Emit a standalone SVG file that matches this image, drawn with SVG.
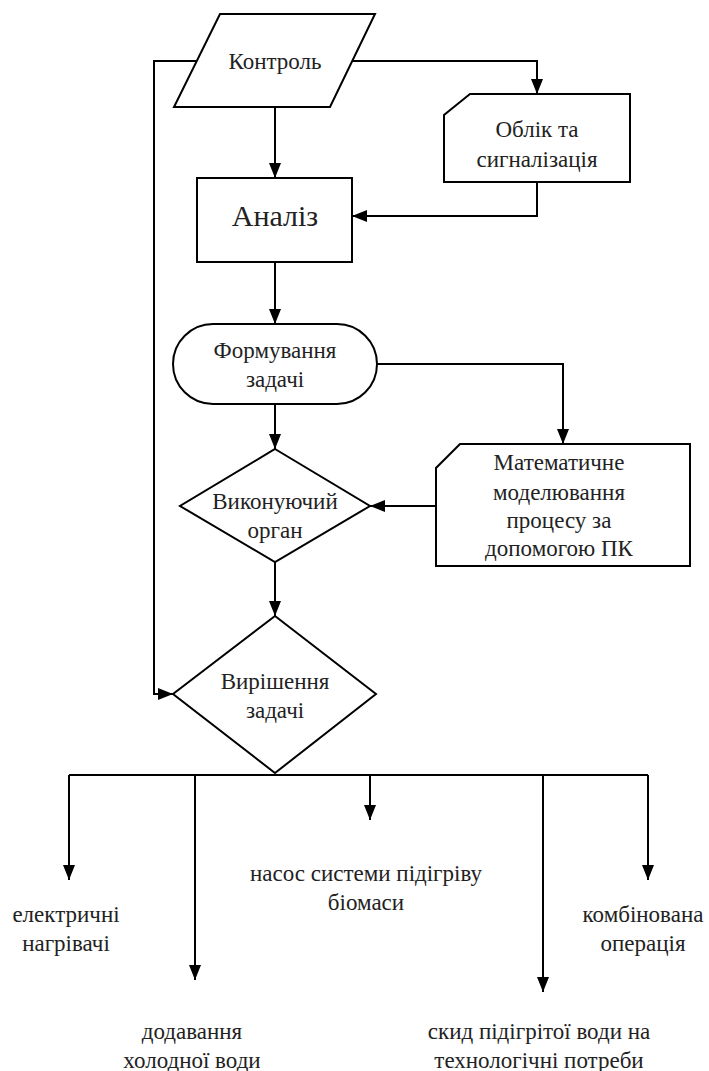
<svg xmlns="http://www.w3.org/2000/svg" width="709" height="1071" viewBox="0 0 709 1071">
<style>
.s{fill:#fff;stroke:#000;stroke-width:2}
.c{fill:none;stroke:#000;stroke-width:2}
.t{font-size:23px;fill:#222;text-anchor:middle}
.big{font-size:30px}
</style>
<defs>
<marker id="a" markerUnits="userSpaceOnUse" markerWidth="16" markerHeight="12" refX="15" refY="6" orient="auto">
<path d="M0,0 L15,6 L0,12 z" fill="#000"/>
</marker>
</defs>
<rect width="709" height="1071" fill="#fff"/>
<g id="connectors">
<path class="c" d="M275,107 V178" marker-end="url(#a)"/>
<path class="c" d="M352,61 H537 V94" marker-end="url(#a)"/>
<path class="c" d="M537,182 V216 H352" marker-end="url(#a)"/>
<path class="c" d="M275,262 V324" marker-end="url(#a)"/>
<path class="c" d="M275,404 V449" marker-end="url(#a)"/>
<path class="c" d="M377,364 H563 V444" marker-end="url(#a)"/>
<path class="c" d="M436,506 H370" marker-end="url(#a)"/>
<path class="c" d="M275,562 V616" marker-end="url(#a)"/>
<path class="c" d="M196,61 H154 V694 H173" marker-end="url(#a)"/>
<path class="c" d="M69,775 H648"/>
<path class="c" d="M69,775 V880" marker-end="url(#a)"/>
<path class="c" d="M195,775 V980" marker-end="url(#a)"/>
<path class="c" d="M370,775 V820" marker-end="url(#a)"/>
<path class="c" d="M543,775 V992" marker-end="url(#a)"/>
<path class="c" d="M648,775 V880" marker-end="url(#a)"/>
</g>
<g class="t" font-family="Liberation Serif, DejaVu Serif, serif">
<g id="kontrol">
<polygon class="s" points="220,14 375,14 330,107 174,107"/>
<text x="275" y="69">Контроль</text>
</g>
<g id="oblik">
<polygon class="s" points="470,94 630,94 630,182 444,182 444,115"/>
<text x="537" y="137">Облік та</text>
<text x="537" y="167">сигналізація</text>
</g>
<g id="analiz">
<rect class="s" x="197" y="178" width="155" height="84"/>
<text class="big" x="275" y="226">Аналіз</text>
</g>
<g id="formuvannya">
<rect class="s" x="173" y="324" width="204" height="80" rx="40" ry="40"/>
<text x="275" y="358">Формування</text>
<text x="275" y="387">задачі</text>
</g>
<g id="vykonuyuchyi">
<polygon class="s" points="275,449 370,506 275,562 180,506"/>
<text x="275" y="509">Виконуючий</text>
<text x="275" y="538">орган</text>
</g>
<g id="matematychne">
<polygon class="s" points="460,444 690,444 690,566 436,566 436,468"/>
<text x="559" y="470">Математичне</text>
<text x="559" y="500">моделювання</text>
<text x="559" y="528">процесу за</text>
<text x="559" y="556">допомогою ПК</text>
</g>
<g id="vyrishennya">
<polygon class="s" points="275,616 376,694 275,773 173,694"/>
<text x="275" y="689">Вирішення</text>
<text x="275" y="718">задачі</text>
</g>
<g id="outputs">
<text x="66" y="922">електричні</text>
<text x="66" y="951">нагрівачі</text>
<text x="366" y="881">насос системи підігріву</text>
<text x="366" y="910">біомаси</text>
<text x="643" y="922">комбінована</text>
<text x="643" y="951">операція</text>
<text x="192" y="1039">додавання</text>
<text x="192" y="1068">холодної води</text>
<text x="539" y="1039">скид підігрітої води на</text>
<text x="539" y="1068">технологічні потреби</text>
</g>
</g>
</svg>
